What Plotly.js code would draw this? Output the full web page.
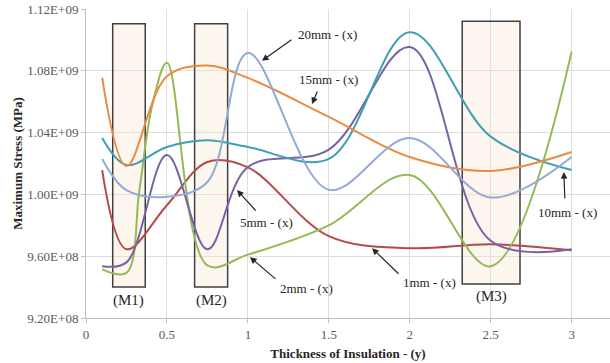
<!DOCTYPE html>
<html>
<head>
<meta charset="utf-8">
<script src="https://cdn.plot.ly/plotly-3.0.1.min.js"></script>
<style>html,body{margin:0;padding:0;background:#fff;}#chart{width:610px;height:363px;}</style>
</head>
<body>
<div id="chart"></div>
<script>
// Thickness of insulation (x values)
const thickness = [0.1, 0.25, 0.5, 0.75, 1, 1.5, 2, 2.5, 3];
const thickness2mm = [0.1, 0.25, 0.33, 0.41, 0.5, 0.75, 1, 1.5, 2, 2.5, 3];
// Maximum stress (MPa) per series
const stress1mm  = [1.0157e9, 0.9645e9, 0.993e9, 1.021e9, 1.0175e9, 0.973e9, 0.9652e9, 0.9677e9, 0.9639e9];
const stress2mm  = [0.9515e9, 0.9492e9, 1.003e9, 1.058e9, 1.0852e9, 0.954e9, 0.961e9, 0.980e9, 1.0125e9, 0.9535e9, 1.0923e9];
const stress5mm  = [0.9535e9, 0.956e9, 1.0255e9, 0.9645e9, 1.0177e9, 1.029e9, 1.0954e9, 0.970e9, 0.9645e9];
const stress10mm = [1.0365e9, 1.019e9, 1.0307e9, 1.035e9, 1.0307e9, 1.023e9, 1.105e9, 1.0374e9, 1.0158e9];
const stress15mm = [1.0756e9, 1.0184e9, 1.0765e9, 1.0834e9, 1.0754e9, 1.0502e9, 1.0242e9, 1.0152e9, 1.0274e9];
const stress20mm = [1.0229e9, 1.0027e9, 0.9985e9, 1.008e9, 1.0915e9, 1.003e9, 1.0365e9, 0.998e9, 1.0242e9];

const seriesNames = ['1mm - (x)', '2mm - (x)', '5mm - (x)', '10mm - (x)', '15mm - (x)', '20mm - (x)'];
const seriesX = [thickness, thickness2mm, thickness, thickness, thickness, thickness];
const seriesValues = [stress1mm, stress2mm, stress5mm, stress10mm, stress15mm, stress20mm];
const seriesColors = ['#B54A4C', '#95B957', '#7862A3', '#3F9FB3', '#EC8B3F', '#93AAD4'];

const yTickVals = [9.2e8, 9.6e8, 1.0e9, 1.04e9, 1.08e9, 1.12e9];
const yTickText = ['9.20E+08', '9.60E+08', '1.00E+09', '1.04E+09', '1.08E+09', '1.12E+09'];
const xTickVals = [0, 0.5, 1, 1.5, 2, 2.5, 3];
const xTickText = ['0', '0.5', '1', '1.5', '2', '2.5', '3'];

// Highlighted regions
const regionNames = ['(M1)', '(M2)', '(M3)'];
const regionX0 = [0.165, 0.671, 2.324];
const regionX1 = [0.366, 0.875, 2.681];
const regionY0 = [9.40e8, 9.40e8, 9.42e8];
const regionY1 = [1.1105e9, 1.1105e9, 1.112e9];

const traces = seriesValues.map((v, i) => ({
  x: seriesX[i], y: v, type: 'scatter', mode: 'lines', name: seriesNames[i],
  line: {color: seriesColors[i], width: 2, shape: 'spline', smoothing: 1},
  hoverinfo: 'x+y+name'
}));

const font = 'Liberation Serif, Times New Roman, serif';
const shapes = regionNames.map((n, i) => ({
  type: 'rect', xref: 'x', yref: 'y', layer: 'between',
  x0: regionX0[i], x1: regionX1[i], y0: regionY0[i], y1: regionY1[i],
  fillcolor: 'rgba(250,226,206,0.32)', line: {color: '#404040', width: 1.5}
}));

const annotations = [];
// region labels
const regionLabelY = [9.315e8, 9.315e8, 9.341e8];
regionNames.forEach((n, i) => annotations.push({
  x: (regionX0[i] + regionX1[i]) / 2, y: regionLabelY[i], xref: 'x', yref: 'y',
  text: n, showarrow: false, font: {family: font, size: 15, color: '#262626'}
}));
// series labels: [label x, label y, arrow head x, head y, tail dx, tail dy]
const labelPos = [
  [2.125, 9.432e8, 1.767, 9.652e8, 28, 27],
  [1.365, 9.393e8, 1.013, 9.594e8, 27, 23],
  [1.118, 9.82e8, 0.933, 1.0028e9, 20, 22],
  [2.977, 9.886e8, 2.952, 1.0145e9, 1, 28],
  [1.495, 1.0741e9, 1.396, 1.0585e9, 6, -14],
  [1.489, 1.1033e9, 1.087, 1.0865e9, 31, -22]
];
labelPos.forEach((p, i) => {
  annotations.push({x: p[0], y: p[1], xref: 'x', yref: 'y', text: seriesNames[i], showarrow: false,
    font: {family: font, size: 13, color: '#262626'}});
  annotations.push({x: p[2], y: p[3], xref: 'x', yref: 'y', text: '', showarrow: true,
    ax: p[4], ay: p[5], arrowhead: 2, arrowsize: 1.1, arrowwidth: 1.2, arrowcolor: '#262626', standoff: 0});
});

const layout = {
  width: 610, height: 363,
  margin: {l: 86, r: 0, t: 9, b: 45},
  paper_bgcolor: '#ffffff', plot_bgcolor: '#ffffff',
  showlegend: false,
  font: {family: font, size: 13, color: '#595959'},
  xaxis: {
    range: [0, 3.237], tickvals: xTickVals, ticktext: xTickText,
    showgrid: true, gridcolor: '#dedede', gridwidth: 1,
    showline: true, linecolor: '#bfbfbf', linewidth: 1,
    ticks: 'outside', ticklen: 4, tickcolor: '#bfbfbf',
    zeroline: false, automargin: false,
    tickfont: {family: font, size: 13, color: '#595959'},
    title: {text: '<b>Thickness of Insulation - (y)</b>', font: {family: font, size: 13, color: '#262626'}, standoff: 8}
  },
  yaxis: {
    range: [9.2e8, 1.12e9], tickvals: yTickVals, ticktext: yTickText,
    showgrid: true, gridcolor: '#dedede', gridwidth: 1,
    showline: true, linecolor: '#bfbfbf', linewidth: 1,
    ticks: 'outside', ticklen: 4, tickcolor: '#bfbfbf',
    zeroline: false, automargin: false,
    tickfont: {family: font, size: 13, color: '#595959'},
    title: {text: '<b>Maximum Stress (MPa)</b>', font: {family: font, size: 13, color: '#262626'}}
  },
  shapes: shapes,
  annotations: annotations
};

Plotly.newPlot('chart', traces, layout, {displayModeBar: false, staticPlot: true});
</script>
</body>
</html>
